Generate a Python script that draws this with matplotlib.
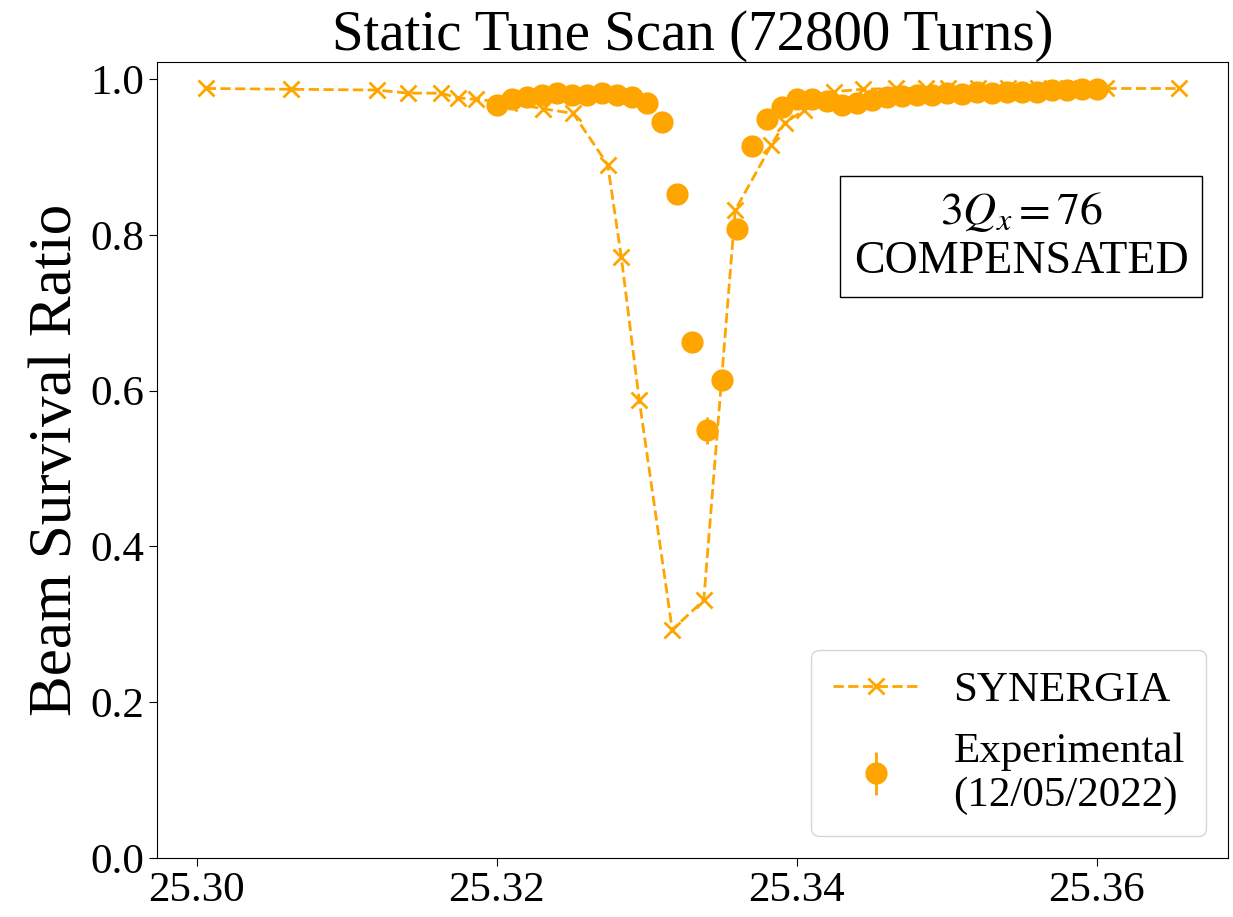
"""Static tune scan: SYNERGIA vs experimental beam survival."""

import matplotlib
matplotlib.use("Agg")
import matplotlib.pyplot as plt
import numpy as np

plt.rcParams["font.family"] = ["Liberation Serif", "DejaVu Serif"]
plt.rcParams["mathtext.fontset"] = "stix"

# SYNERGIA simulation
sim_tune = [25.3006, 25.3063, 25.3120, 25.3141, 25.3163, 25.3174, 25.3186,
            25.3208, 25.3231, 25.3251, 25.3274, 25.3283, 25.3295, 25.3317,
            25.3338, 25.3359, 25.3383, 25.3392, 25.3405, 25.3425, 25.3444,
            25.3466, 25.3486, 25.3501, 25.3521, 25.3541, 25.3561, 25.3581,
            25.3606, 25.3655]
sim_surv = [0.988, 0.987, 0.986, 0.982, 0.982, 0.976, 0.974,
            0.970, 0.962, 0.956, 0.890, 0.772, 0.588, 0.293,
            0.331, 0.832, 0.915, 0.944, 0.960, 0.984, 0.987,
            0.988, 0.988, 0.988, 0.988, 0.988, 0.988, 0.988,
            0.988, 0.988]

# Experimental data (12/05/2022)
exp_tune = [25.320, 25.321, 25.322, 25.323, 25.324, 25.325, 25.326, 25.327,
            25.328, 25.329, 25.330, 25.331, 25.332, 25.333, 25.334, 25.335,
            25.336, 25.337, 25.338, 25.339, 25.340, 25.341, 25.342, 25.343,
            25.344, 25.345, 25.346, 25.347, 25.348, 25.349, 25.350, 25.351,
            25.352, 25.353, 25.354, 25.355, 25.356, 25.357, 25.358, 25.359,
            25.360]
exp_surv = [0.967, 0.974, 0.977, 0.979, 0.982, 0.979, 0.979, 0.982,
            0.979, 0.977, 0.969, 0.945, 0.852, 0.662, 0.549, 0.614,
            0.807, 0.914, 0.949, 0.964, 0.975, 0.974, 0.972, 0.967,
            0.969, 0.973, 0.977, 0.978, 0.980, 0.980, 0.982, 0.981,
            0.983, 0.982, 0.983, 0.984, 0.984, 0.986, 0.986, 0.987,
            0.987]
exp_err = [0.004] * 41
exp_err[14] = 0.017

if __name__ == "__main__":
    fig = plt.figure(figsize=(12.33, 9.17), dpi=100)
    ax = fig.add_axes([157 / 1233, 1 - 858 / 917, 1071 / 1233, 796 / 917])

    ax.plot(sim_tune, sim_surv, "--x", color="orange", lw=2, ms=11, mew=2,
            label="SYNERGIA")
    ax.errorbar(exp_tune, exp_surv, yerr=exp_err, fmt="o", color="orange",
                ms=15, elinewidth=2, label="Experimental\n(12/05/2022)")

    ax.set_ylim(0, 1.022)
    ax.set_yticks(np.arange(0, 1.01, 0.2))
    ax.set_xticks([25.30, 25.32, 25.34, 25.36])
    ax.tick_params(labelsize=31, length=6)

    ax.set_title("Static Tune Scan (72800 Turns)", fontsize=41)
    ax.set_ylabel("Beam Survival Ratio", fontsize=44)

    ax.text(0.807, 0.781, "$3Q_x = 76$\nCOMPENSATED", transform=ax.transAxes,
            ha="center", va="center", fontsize=33,
            bbox=dict(boxstyle="square,pad=0.3", facecolor="white",
                      edgecolor="black"))

    ax.legend(loc="lower right", fontsize=31, borderpad=0.5)

    fig.savefig("out.png", dpi=100)
    plt.close()
